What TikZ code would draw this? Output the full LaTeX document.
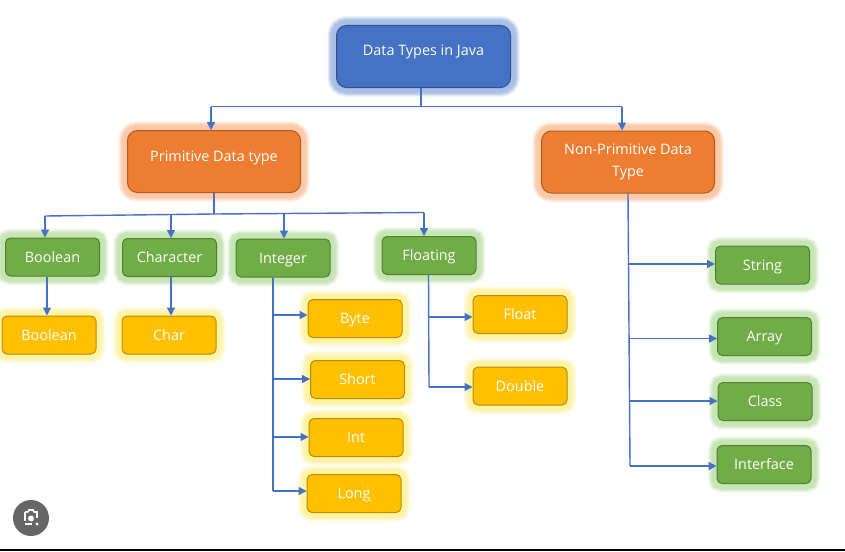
\documentclass[tikz,border=0pt]{standalone}
\usepackage{fontspec}
\setmainfont{Open Sans}
\usetikzlibrary{arrows.meta}
\pgfdeclarelayer{glowlayer}
\pgfsetlayers{glowlayer,main}
\definecolor{cblue}{HTML}{4472C4}
\definecolor{cblueD}{HTML}{2F528F}
\definecolor{corange}{HTML}{ED7D31}
\definecolor{corangeD}{HTML}{AE5A21}
\definecolor{cgreen}{HTML}{70AD47}
\definecolor{cgreenD}{HTML}{507E32}
\definecolor{cyellow}{HTML}{FFC000}
\definecolor{cyellowD}{HTML}{BC8C00}
\definecolor{gblue}{HTML}{A9BFE6}
\definecolor{gorange}{HTML}{FBC9A8}
\definecolor{ggreen}{HTML}{C6E5B4}
\definecolor{gyellow}{HTML}{FFF3A8}
\newcommand\glowof[3]{%
  \begin{pgfonlayer}{glowlayer}
    \foreach \wd/\op in {18/15,16/35,14/60,12/85,9/100}{
      \draw[draw=#2!\op!white,line width=\wd pt,rounded corners=#3]
        (#1.north west) rectangle (#1.south east);
    }
  \end{pgfonlayer}}
\tikzset{
  x=1pt,y=-1pt,
  boxbase/.style={draw,line width=1pt,inner sep=0pt,text=white,align=center,font=\fontsize{14.4pt}{22pt}\selectfont},
  bigblue/.style={boxbase,fill=cblue,draw=cblueD,minimum width=174pt,minimum height=62pt,rounded corners=10pt},
  bigorange/.style={boxbase,fill=corange,draw=corangeD,minimum width=173pt,minimum height=62pt,rounded corners=10pt},
  greenbox/.style={boxbase,fill=cgreen,draw=cgreenD,minimum width=94pt,minimum height=38pt,rounded corners=5pt,text height=12pt,text depth=2pt},
  yellowbox/.style={boxbase,fill=cyellow,draw=cyellowD,minimum width=94pt,minimum height=38pt,rounded corners=5pt,text height=12pt,text depth=2pt},
  link/.style={draw=cblue,line width=1.4pt},
  arrowlink/.style={link,-{Triangle[length=8pt,width=8pt]}},
}
\begin{document}
\begin{tikzpicture}
\useasboundingbox (0,0) rectangle (845,551);
\begin{pgfonlayer}{glowlayer}
\fill[white] (0,0) rectangle (845,551);
\end{pgfonlayer}
% boxes
\node[bigblue] (root) at (423.5,56.5) {\raisebox{12pt}{Data Types in Java}};
\node[bigorange] (prim) at (214,161.5) {\raisebox{11.5pt}{Primitive Data type}};
\node[bigorange] (nonp) at (628,162) {Non-Primitive Data\\Type};
\node[greenbox] (gbool) at (52.5,257) {Boolean};
\node[greenbox] (gchar) at (169.5,257.5) {Character};
\node[greenbox] (gint) at (283,258) {Integer};
\node[greenbox] (gfloat) at (429,255.5) {Floating};
\node[yellowbox] (ybool) at (49,335) {Boolean};
\node[yellowbox] (ychar) at (169,335) {Char};
\node[yellowbox] (ybyte) at (355,318.5) {Byte};
\node[yellowbox] (yshort) at (357.5,379.5) {Short};
\node[yellowbox] (yint) at (356,437.5) {Int};
\node[yellowbox] (ylong) at (354,493.5) {Long};
\node[yellowbox] (yfl) at (520,314.5) {Float};
\node[yellowbox] (ydbl) at (520,386) {Double};
\node[greenbox] (gstr) at (762.5,265) {String};
\node[greenbox] (garr) at (764.5,336.5) {Array};
\node[greenbox] (gcls) at (765,401.5) {Class};
\node[greenbox] (gifc) at (764,464.5) {Interface};
% glows
\glowof{root}{gblue}{10pt}
\glowof{prim}{gorange}{10pt}
\glowof{nonp}{gorange}{10pt}
\foreach \n in {gbool,gchar,gint,gfloat,gstr,garr,gcls,gifc}{\glowof{\n}{ggreen}{5pt}}
\foreach \n in {ybool,ychar,ybyte,yshort,yint,ylong,yfl,ydbl}{\glowof{\n}{gyellow}{5pt}}
% junctions
\coordinate (rj) at (421,106.5);
\coordinate (rl) at (211,106.5);
\coordinate (rr) at (622,106.5);
\coordinate (pj) at (214,214);
\coordinate (b1) at (45,216);
\coordinate (b2) at (171,215);
\coordinate (b3) at (284,214);
\coordinate (b4) at (424,212.5);
\coordinate (ne) at (630,466);
\coordinate (n1) at (628.5,264);
\coordinate (n2) at (629,338.5);
\coordinate (n3) at (629.5,401);
\coordinate (ie) at (273,491);
\coordinate (i1) at (273,315);
\coordinate (i2) at (273,379);
\coordinate (i3) at (273,437);
\coordinate (fe) at (429,387);
\coordinate (f1) at (428.5,317);
% root links
\draw[link] (root.south -| rj) -- (rj);
\draw[link] (rl) -- (rr);
\draw[arrowlink] (rl) -- (rl |- prim.north);
\draw[arrowlink] (rr) -- (rr |- nonp.north);
% primitive links
\draw[link] (prim.south) -- (pj);
\draw[link] (b1) -- (pj) -- (b4);
\draw[arrowlink] (b1) -- (b1 |- gbool.north);
\draw[arrowlink] (b2) -- (b2 |- gchar.north);
\draw[arrowlink] (b3) -- (b3 |- gint.north);
\draw[arrowlink] (b4) -- (b4 |- gfloat.north);
% simple down links
\coordinate (bd) at (47,276);
\coordinate (cd) at (171,277);
\draw[arrowlink] (bd |- gbool.south) -- (bd |- ybool.north);
\draw[arrowlink] (cd |- gchar.south) -- (cd |- ychar.north);
% non primitive
\draw[link] (nonp.south) -- (ne);
\draw[arrowlink] (n1) -- (n1 -| gstr.west);
\draw[arrowlink] (n2) -- (n2 -| garr.west);
\draw[arrowlink] (n3) -- (n3 -| gcls.west);
\draw[arrowlink] (ne) -- (ne -| gifc.west);
% integer
\draw[link] (ie |- gint.south) -- (ie);
\draw[arrowlink] (i1) -- (i1 -| ybyte.west);
\draw[arrowlink] (i2) -- (i2 -| yshort.west);
\draw[arrowlink] (i3) -- (i3 -| yint.west);
\draw[arrowlink] (ie) -- (ie -| ylong.west);
% floating
\draw[link] (f1 |- gfloat.south) -- (fe);
\draw[arrowlink] (f1) -- (f1 -| yfl.west);
\draw[arrowlink] (fe) -- (fe -| ydbl.west);
% camera badge
\fill[black!60] (31,518) circle (18);
\draw[white,line width=1.7pt] (25,512) -- (28,512) (34,512) -- (37,512) -- (37,518) (25,512) -- (25,521) (25,524) -- (32,524);
\draw[white,line width=1.7pt] (28,512) -- (29,510) -- (33,510) -- (34,512);
\fill[white] (31,518.5) circle (3);
\fill[white] (37,524) circle (1.7);
% bottom rule
\draw[black,line width=1.5pt] (0,550.2) -- (845,550.2);
\end{tikzpicture}
\end{document}
